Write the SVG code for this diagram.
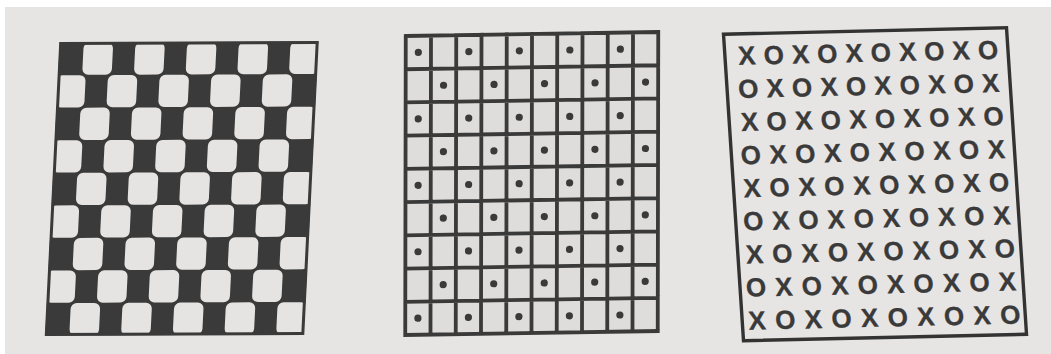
<svg xmlns="http://www.w3.org/2000/svg" width="1051" height="354" viewBox="0 0 1051 354">
<style>
.ink{fill:#3a3a3a}
.lt rect{fill:#e6e4e2;width:29.5px;height:32.3px;rx:6px;ry:6px}
.grid{fill:none;stroke:#3a3a3a;stroke-width:3.8;stroke-linecap:square}
.dot circle{fill:#3a3a3a}
.xo{font-family:"Liberation Sans",Arial,sans-serif;font-size:26px;font-weight:bold;fill:#3a3a3a;stroke:#3a3a3a;stroke-width:0.3;text-anchor:middle}
</style>
<rect width="1051" height="354" fill="#ffffff"/>
<rect x="5" y="7" width="1046" height="347" fill="#e7e5e3"/>

<g id="checkerboard" transform="matrix(1,-0.0039,-0.0494,1,59.75,42.5)">
<rect class="ink" x="0" y="0" width="258.5" height="293"/>
<g class="lt">
<rect x="24" y="0.15"/><rect x="75.7" y="0.15"/><rect x="127.4" y="0.15"/><rect x="179.1" y="0.15"/><rect x="230.8" y="0.15"/>
<rect x="-1.85" y="32.71"/><rect x="49.85" y="32.71"/><rect x="101.55" y="32.71"/><rect x="153.25" y="32.71"/><rect x="204.95" y="32.71"/>
<rect x="24" y="65.27"/><rect x="75.7" y="65.27"/><rect x="127.4" y="65.27"/><rect x="179.1" y="65.27"/><rect x="230.8" y="65.27"/>
<rect x="-1.85" y="97.83"/><rect x="49.85" y="97.83"/><rect x="101.55" y="97.83"/><rect x="153.25" y="97.83"/><rect x="204.95" y="97.83"/>
<rect x="24" y="130.39"/><rect x="75.7" y="130.39"/><rect x="127.4" y="130.39"/><rect x="179.1" y="130.39"/><rect x="230.8" y="130.39"/>
<rect x="-1.85" y="162.95"/><rect x="49.85" y="162.95"/><rect x="101.55" y="162.95"/><rect x="153.25" y="162.95"/><rect x="204.95" y="162.95"/>
<rect x="24" y="195.51"/><rect x="75.7" y="195.51"/><rect x="127.4" y="195.51"/><rect x="179.1" y="195.51"/><rect x="230.8" y="195.51"/>
<rect x="-1.85" y="228.07"/><rect x="49.85" y="228.07"/><rect x="101.55" y="228.07"/><rect x="153.25" y="228.07"/><rect x="204.95" y="228.07"/>
<rect x="24" y="260.63"/><rect x="75.7" y="260.63"/><rect x="127.4" y="260.63"/><rect x="179.1" y="260.63"/><rect x="230.8" y="260.63"/>
</g>
<rect x="1" y="1" width="256.5" height="291" fill="none" stroke="#3a3a3a" stroke-width="3"/>
</g>

<g id="dot-grid" transform="matrix(1,-0.0158,-0.0017,1,405.75,36)">
<rect x="0" y="0" width="252.5" height="299" fill="#dfdddb"/>
<path class="grid" d="M0 0V299M25.25 0V299M50.5 0V299M75.75 0V299M101 0V299M126.25 0V299M151.5 0V299M176.75 0V299M202 0V299M227.25 0V299M252.5 0V299M0 0H252.5M0 33.22H252.5M0 66.44H252.5M0 99.67H252.5M0 132.89H252.5M0 166.11H252.5M0 199.33H252.5M0 232.56H252.5M0 265.78H252.5M0 299H252.5"/>
<g class="dot">
<circle cx="12.63" cy="16.61" r="3.6"/><circle cx="63.13" cy="16.61" r="3.6"/><circle cx="113.63" cy="16.61" r="3.6"/><circle cx="164.13" cy="16.61" r="3.6"/><circle cx="214.63" cy="16.61" r="3.6"/>
<circle cx="37.88" cy="49.83" r="3.6"/><circle cx="88.38" cy="49.83" r="3.6"/><circle cx="138.88" cy="49.83" r="3.6"/><circle cx="189.38" cy="49.83" r="3.6"/><circle cx="239.88" cy="49.83" r="3.6"/>
<circle cx="12.63" cy="83.05" r="3.6"/><circle cx="63.13" cy="83.05" r="3.6"/><circle cx="113.63" cy="83.05" r="3.6"/><circle cx="164.13" cy="83.05" r="3.6"/><circle cx="214.63" cy="83.05" r="3.6"/>
<circle cx="37.88" cy="116.28" r="3.6"/><circle cx="88.38" cy="116.28" r="3.6"/><circle cx="138.88" cy="116.28" r="3.6"/><circle cx="189.38" cy="116.28" r="3.6"/><circle cx="239.88" cy="116.28" r="3.6"/>
<circle cx="12.63" cy="149.5" r="3.6"/><circle cx="63.13" cy="149.5" r="3.6"/><circle cx="113.63" cy="149.5" r="3.6"/><circle cx="164.13" cy="149.5" r="3.6"/><circle cx="214.63" cy="149.5" r="3.6"/>
<circle cx="37.88" cy="182.72" r="3.6"/><circle cx="88.38" cy="182.72" r="3.6"/><circle cx="138.88" cy="182.72" r="3.6"/><circle cx="189.38" cy="182.72" r="3.6"/><circle cx="239.88" cy="182.72" r="3.6"/>
<circle cx="12.63" cy="215.94" r="3.6"/><circle cx="63.13" cy="215.94" r="3.6"/><circle cx="113.63" cy="215.94" r="3.6"/><circle cx="164.13" cy="215.94" r="3.6"/><circle cx="214.63" cy="215.94" r="3.6"/>
<circle cx="37.88" cy="249.17" r="3.6"/><circle cx="88.38" cy="249.17" r="3.6"/><circle cx="138.88" cy="249.17" r="3.6"/><circle cx="189.38" cy="249.17" r="3.6"/><circle cx="239.88" cy="249.17" r="3.6"/>
<circle cx="12.63" cy="282.39" r="3.6"/><circle cx="63.13" cy="282.39" r="3.6"/><circle cx="113.63" cy="282.39" r="3.6"/><circle cx="164.13" cy="282.39" r="3.6"/><circle cx="214.63" cy="282.39" r="3.6"/>
</g>
</g>

<g id="xo-grid" transform="matrix(1,-0.023,0.0653,1,723.5,34.25)">
<rect x="0" y="0" width="283" height="306.5" fill="none" stroke="#333333" stroke-width="3.4"/>
<text class="xo" x="22 48.8 75.6 102.3 129.1 155.9 182.7 209.4 236.2 263" y="30.8">XOXOXOXOXO</text>
<text class="xo" x="21.1 48.1 75 101.9 128.9 155.8 182.8 209.7 236.6 263.6" y="63.9">OXOXOXOXOX</text>
<text class="xo" x="20.3 47.4 74.5 101.6 128.7 155.8 182.9 210 237.1 264.3" y="97">XOXOXOXOXO</text>
<text class="xo" x="19.4 46.7 74 101.2 128.5 155.8 183.1 210.4 237.6 264.9" y="130.1">OXOXOXOXOX</text>
<text class="xo" x="18.5 45.9 73.4 100.8 128.3 155.7 183.1 210.6 238 265.5" y="163.2">XOXOXOXOXO</text>
<text class="xo" x="17.6 45.2 72.8 100.4 128 155.7 183.3 210.9 238.5 266.1" y="196.3">OXOXOXOXOX</text>
<text class="xo" x="16.8 44.5 72.3 100.1 127.9 155.7 183.4 211.2 239 266.8" y="229.4">XOXOXOXOXO</text>
<text class="xo" x="15.9 43.8 71.8 99.7 127.7 155.6 183.5 211.5 239.5 267.4" y="262.5">OXOXOXOXOX</text>
<text class="xo" x="15 43.1 71.2 99.3 127.4 155.6 183.7 211.8 239.9 268" y="295.6">XOXOXOXOXO</text>
</g>
</svg>
